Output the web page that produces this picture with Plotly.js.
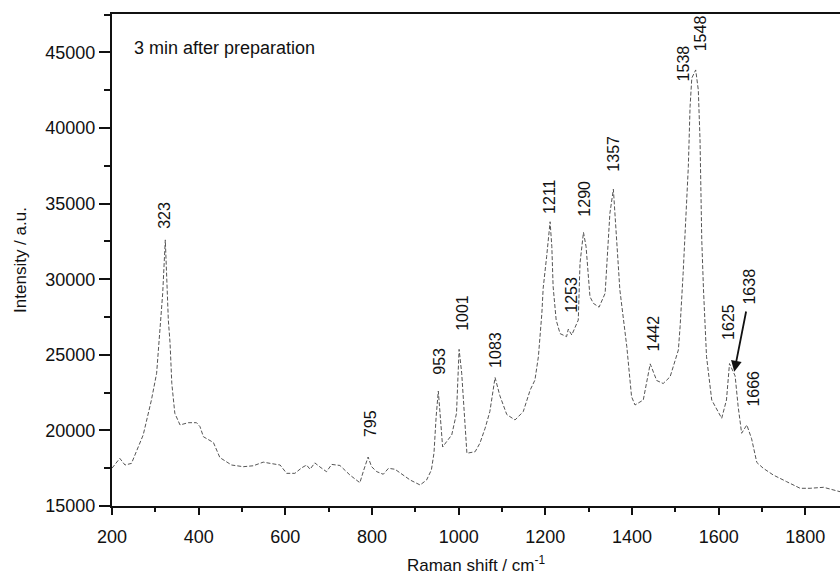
<!DOCTYPE html>
<html>
<head>
<meta charset="utf-8">
<script src="https://cdn.plot.ly/plotly-3.0.1.min.js"></script>
<style>html,body{margin:0;padding:0;background:#fff;}#chart{width:840px;height:578px;}</style>
</head>
<body>
<div id="chart"></div>
<script>
// Raman shift (cm^-1)
const ramanShift = [200,218,230,245,272,291,303,312,317,323,326,330,334,338,345,357,376,395,403,411,434,449,476,503,526,549,565,588,603,622,638,649,657,668,680,695,707,726,749,772,781,791,799,811,826,838,853,888,911,926,937,943,948,953,957,963,972,984,995,1001,1007,1019,1038,1049,1061,1072,1084,1095,1111,1130,1149,1165,1176,1184,1192,1195,1203,1207,1211,1215,1218,1225,1234,1249,1253,1261,1272,1276,1280,1288,1294,1299,1303,1311,1324,1338,1342,1349,1357,1365,1372,1388,1399,1407,1426,1442,1457,1472,1488,1507,1511,1518,1526,1530,1534,1538,1547,1553,1557,1561,1565,1572,1584,1607,1618,1625,1638,1645,1653,1665,1676,1688,1703,1726,1757,1788,1811,1842,1880];
// Intensity (a.u.)
const intensity = [17500,18150,17710,17820,19700,22010,23780,26860,29070,32600,30390,27300,25760,23110,21130,20360,20510,20510,20250,19580,19200,18200,17710,17600,17660,17900,17820,17710,17160,17160,17530,17710,17430,17850,17580,17270,17750,17680,17050,16540,17380,18240,17600,17270,17100,17490,17430,16720,16390,16720,17380,18490,20900,22600,21150,18900,19250,19700,21130,25360,23780,18490,18590,19150,20140,21250,23500,22300,21050,20690,21240,22670,23330,24880,27750,29400,31490,32590,33800,32150,29500,27300,26400,26200,26700,26310,27080,27300,31050,33100,32150,30390,28840,28400,28150,29070,31050,34360,35950,32150,29290,25540,22230,21680,22010,24400,23300,23100,23550,25320,26860,30390,34800,37440,41410,43300,43840,42520,39210,32590,29290,24880,22010,20800,22010,24420,23600,21570,19810,20360,19450,17880,17494,17050,16607,16171,16171,16237,15946];

// Peak labels and where they are written
const peakLabels = ["323","795","953","1001","1083","1211","1253","1290","1357","1538","1548","1442","1625","1638","1666"];
const labelX = [322,795,957,1009,1086,1209,1261,1290,1357,1518,1557,1449,1622,1672,1680];
const labelY = [34250,20470,24545,27745,25318,35457,28956,35351,38328,44280,46264,26423,27190,29505,22785];

const xTickVals = [200,400,600,800,1000,1200,1400,1600,1800];
const yTickVals = [15000,20000,25000,30000,35000,40000,45000];

const font = "Liberation Sans, Arial, Helvetica, sans-serif";

const annotations = peakLabels.map((t,i)=>({
  x: labelX[i], y: labelY[i], xref:'x', yref:'y', text: t, showarrow:false,
  textangle:-90, font:{family:font, size:16, color:'#111'}, xanchor:'center', yanchor:'middle'
}));
annotations.push({
  x:1636, y:23885, ax:1664, ay:27963, xref:'x', yref:'y', axref:'x', ayref:'y',
  text:'', showarrow:true, arrowhead:2, arrowsize:1.2, arrowwidth:1.8, arrowcolor:'#111'
});
annotations.push({
  x:245, y:45273, xref:'x', yref:'y', text:'3 min after preparation', showarrow:false,
  xanchor:'left', yanchor:'middle', font:{family:font, size:18, color:'#111'}
});

const trace = {
  x: ramanShift, y: intensity, type:'scatter', mode:'lines',
  line:{color:'#555', width:1, dash:'4px,2px'}, hoverinfo:'skip'
};

const layout = {
  width:840, height:578,
  margin:{l:112, r:0, t:14, b:72},
  paper_bgcolor:'#fff', plot_bgcolor:'#fff',
  showlegend:false,
  font:{family:font, size:18, color:'#111'},
  xaxis:{
    range:[200,1880], tickvals:xTickVals, ticktext:xTickVals.map(String),
    ticks:'outside', ticklen:7, tickwidth:2, tickcolor:'#111', ticklabelstandoff:6,
    minor:{dtick:100, ticks:'outside', ticklen:4, tickwidth:2, tickcolor:'#111'},
    showline:true, linewidth:2, linecolor:'#111', mirror:true,
    showgrid:false, zeroline:false,
    tickfont:{family:font, size:18, color:'#111'},
    title:{text:'Raman shift / cm<sup>-1</sup>', font:{family:font, size:17, color:'#111'}, standoff:14}
  },
  yaxis:{
    range:[15000,47540], tickvals:yTickVals, ticktext:yTickVals.map(String),
    ticks:'outside', ticklen:11, tickwidth:2, tickcolor:'#111',
    minor:{dtick:2500, ticks:'outside', ticklen:6, tickwidth:2, tickcolor:'#111'},
    showline:true, linewidth:2, linecolor:'#111', mirror:false,
    showgrid:false, zeroline:false,
    tickfont:{family:font, size:18, color:'#111'},
    title:{text:'Intensity / a.u.', font:{family:font, size:17, color:'#111'}, standoff:14}
  },
  annotations: annotations
};

Plotly.newPlot('chart', [trace], layout, {displayModeBar:false, staticPlot:true});
</script>
</body>
</html>
